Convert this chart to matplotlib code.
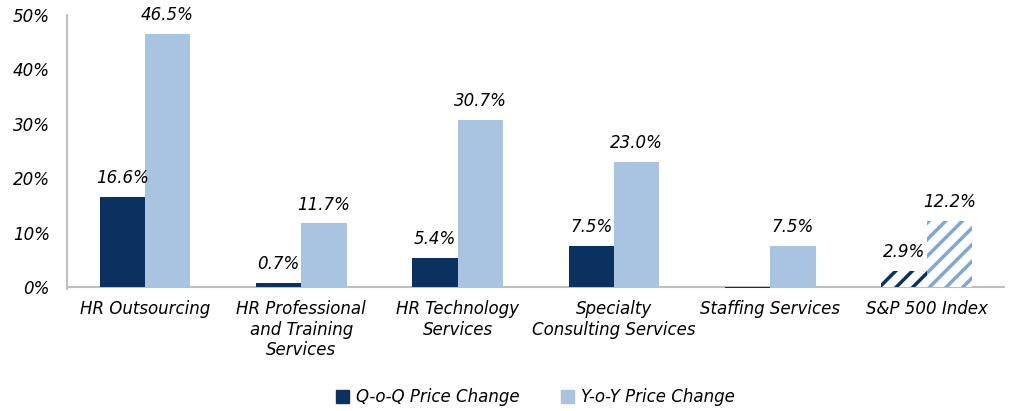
import numpy as np
import matplotlib.pyplot as plt
import matplotlib as mpl

# data
categories = ['HR Outsourcing', 'HR Professional\nand Training\nServices', 'HR Technology\nServices',
              'Specialty\nConsulting Services', 'Staffing Services', 'S&P 500 Index']
qoq = [16.6, 0.7, 5.4, 7.5, -0.2, 2.9]
yoy = [46.5, 11.7, 30.7, 23.0, 7.5, 12.2]
qoq_labels = ['16.6%', '0.7%', '5.4%', '7.5%', '', '2.9%']
yoy_labels = ['46.5%', '11.7%', '30.7%', '23.0%', '7.5%', '12.2%']

dark = '#0B3160'
light = '#A9C4E0'
mpl.rcParams['hatch.linewidth'] = 2.5

fig = plt.figure(figsize=(10.1, 4.11), dpi=100)
ax = fig.add_axes([0.066, 0.2978, 0.929, 0.6657])

x = np.arange(len(categories))
w = 0.29
for i in range(len(categories)):
    if i == len(categories) - 1:
        # index bars are drawn hatched
        ax.bar(x[i] - w / 2, qoq[i], w, color='white', edgecolor=dark, hatch='//', linewidth=0, zorder=2)
        ax.bar(x[i] + w / 2, yoy[i], w, color='white', edgecolor='#7FA8D6', hatch='//', linewidth=0, zorder=2)
    else:
        ax.bar(x[i] - w / 2, qoq[i], w, color=dark, linewidth=0, zorder=2)
        ax.bar(x[i] + w / 2, yoy[i], w, color=light, linewidth=0, zorder=2)
    if qoq_labels[i]:
        ax.text(x[i] - w / 2, qoq[i] + 1.8, qoq_labels[i], ha='center', va='bottom',
                fontsize=12, style='italic')
    ax.text(x[i] + w / 2, yoy[i] + 1.8, yoy_labels[i], ha='center', va='bottom',
            fontsize=12, style='italic')

ax.set_xlim(-0.5, len(categories) - 0.5)
ax.set_ylim(-0.3, 50)
ax.set_yticks(range(0, 51, 10))
ax.set_yticklabels([f'{v}%' for v in range(0, 51, 10)], fontsize=12, style='italic')
ax.set_xticks(x)
ax.set_xticklabels(categories, fontsize=12, style='italic', va='top')
ax.tick_params(axis='x', length=0, pad=8)
ax.tick_params(axis='y', length=0, pad=12)
for s in ['top', 'right', 'bottom']:
    ax.spines[s].set_visible(False)
ax.spines['left'].set_color('#BFBFBF')
ax.spines['left'].set_linewidth(1.5)
ax.axhline(0, color='#BFBFBF', linewidth=1.5, zorder=1)

h1 = mpl.patches.Patch(color=dark, label='Q-o-Q Price Change')
h2 = mpl.patches.Patch(color=light, label='Y-o-Y Price Change')
fig.legend(handles=[h1, h2], loc='center', bbox_to_anchor=(0.53, 0.033), ncol=2, frameon=False,
           prop={'size': 12, 'style': 'italic'}, handlelength=0.8, handleheight=0.8,
           handletextpad=0.4, columnspacing=2.5)

fig.savefig('out.png', dpi=100)
